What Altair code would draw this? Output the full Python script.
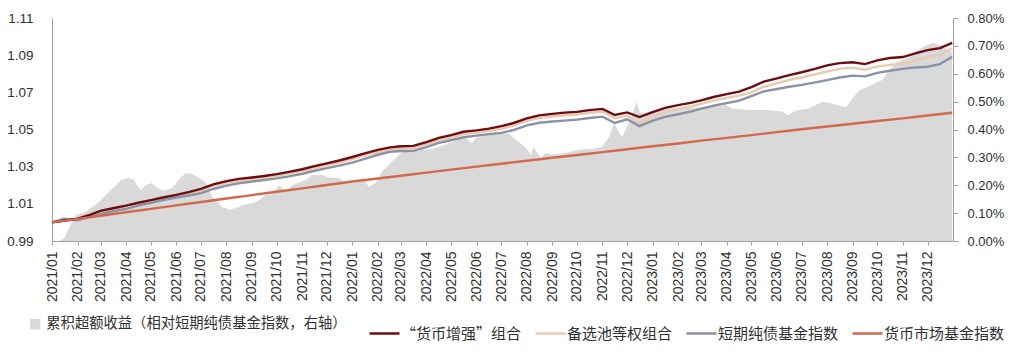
import altair as alt
import pandas as pd

# ---------------- data ----------------
line_dates = [f"{y}-{m:02d}-{d}" for y in (2021, 2022, 2023) for m in range(1, 13) for d in ("01", "16")] + ["2023-12-31"]

enhanced = [1.0000, 1.0010, 1.0020, 1.0040, 1.0062, 1.0076, 1.0090, 1.0106, 1.0120, 1.0134,
            1.0148, 1.0163, 1.0180, 1.0205, 1.0222, 1.0234, 1.0242, 1.0250, 1.0260, 1.0272,
            1.0286, 1.0303, 1.0318, 1.0333, 1.0352, 1.0372, 1.0390, 1.0404, 1.0410, 1.0412,
            1.0432, 1.0455, 1.0470, 1.0488, 1.0495, 1.0505, 1.0518, 1.0535, 1.0560, 1.0576,
            1.0584, 1.0591, 1.0595, 1.0604, 1.0611, 1.0578, 1.0592, 1.0567, 1.0593, 1.0616,
            1.0631, 1.0643, 1.0657, 1.0675, 1.0690, 1.0704, 1.0728, 1.0758, 1.0775, 1.0793,
            1.0808, 1.0825, 1.0845, 1.0857, 1.0862, 1.0852, 1.0872, 1.0885, 1.0890, 1.0910,
            1.0927, 1.0938, 1.0966]

pool = [1.0000, 1.0008, 1.0018, 1.0035, 1.0055, 1.0068, 1.0082, 1.0098, 1.0112, 1.0126,
        1.0140, 1.0155, 1.0171, 1.0196, 1.0213, 1.0225, 1.0233, 1.0241, 1.0251, 1.0263,
        1.0277, 1.0293, 1.0308, 1.0322, 1.0341, 1.0361, 1.0378, 1.0392, 1.0398, 1.0400,
        1.0420, 1.0442, 1.0457, 1.0475, 1.0482, 1.0492, 1.0504, 1.0521, 1.0546, 1.0562,
        1.0570, 1.0577, 1.0581, 1.0590, 1.0597, 1.0560, 1.0574, 1.0534, 1.0570, 1.0594,
        1.0611, 1.0624, 1.0638, 1.0655, 1.0670, 1.0682, 1.0700, 1.0730, 1.0749, 1.0767,
        1.0780, 1.0795, 1.0812, 1.0826, 1.0833, 1.0822, 1.0838, 1.0848, 1.0855, 1.0872,
        1.0890, 1.0902, 1.0937]

short_bond = [1.0000, 1.0020, 1.0012, 1.0030, 1.0045, 1.0060, 1.0073, 1.0090, 1.0105, 1.0120,
              1.0134, 1.0145, 1.0158, 1.0180, 1.0198, 1.0211, 1.0220, 1.0228, 1.0237, 1.0248,
              1.0262, 1.0278, 1.0292, 1.0306, 1.0322, 1.0342, 1.0364, 1.0380, 1.0384, 1.0385,
              1.0405, 1.0428, 1.0442, 1.0458, 1.0467, 1.0475, 1.0482, 1.0497, 1.0522, 1.0536,
              1.0543, 1.0548, 1.0553, 1.0562, 1.0569, 1.0535, 1.0555, 1.0518, 1.0548, 1.0568,
              1.0582, 1.0596, 1.0612, 1.0628, 1.0642, 1.0655, 1.0680, 1.0705, 1.0718, 1.0730,
              1.0740, 1.0752, 1.0766, 1.0780, 1.0790, 1.0786, 1.0805, 1.0816, 1.0826, 1.0834,
              1.0838, 1.0852, 1.0892]

mm_dates = [f"{y}-{m:02d}-01" for y in (2021, 2022, 2023) for m in range(1, 13)] + ["2023-12-31"]
money_mkt = [1.0000, 1.0019, 1.0036, 1.0055, 1.0073, 1.0092, 1.0110, 1.0129, 1.0147, 1.0165,
             1.0183, 1.0201, 1.0220, 1.0236, 1.0251, 1.0268, 1.0284, 1.0300, 1.0316, 1.0332,
             1.0348, 1.0363, 1.0378, 1.0394, 1.0410, 1.0425, 1.0440, 1.0455, 1.0470, 1.0486,
             1.0501, 1.0516, 1.0531, 1.0546, 1.0560, 1.0575, 1.0590]

area_dates = [
    "2021-01-01", "2021-01-10", "2021-01-16", "2021-01-22", "2021-01-30", "2021-02-11", "2021-02-27",
    "2021-03-11", "2021-03-20", "2021-03-26", "2021-04-05", "2021-04-11", "2021-04-14", "2021-04-19",
    "2021-04-25", "2021-05-02", "2021-05-09", "2021-05-17", "2021-05-27", "2021-06-07", "2021-06-13",
    "2021-06-20", "2021-06-29", "2021-07-07", "2021-07-15", "2021-07-20", "2021-07-27", "2021-08-01",
    "2021-08-04", "2021-08-16", "2021-08-20", "2021-09-01", "2021-09-06", "2021-09-18", "2021-09-25",
    "2021-10-04", "2021-10-12", "2021-10-20", "2021-11-06", "2021-11-13", "2021-11-26", "2021-11-30",
    "2021-12-16", "2021-12-24", "2022-01-01", "2022-01-09", "2022-01-13", "2022-01-21", "2022-01-30",
    "2022-02-06", "2022-02-18", "2022-02-27", "2022-03-03", "2022-03-20", "2022-04-08", "2022-04-28",
    "2022-05-19", "2022-05-26", "2022-05-31", "2022-06-16", "2022-06-28", "2022-07-10", "2022-07-22",
    "2022-07-31", "2022-08-06", "2022-08-09", "2022-08-13", "2022-08-18", "2022-08-24", "2022-08-31",
    "2022-09-17", "2022-10-03", "2022-10-19", "2022-10-31", "2022-11-09", "2022-11-15", "2022-11-19",
    "2022-11-25", "2022-12-03", "2022-12-09", "2022-12-12", "2022-12-17", "2022-12-23", "2022-12-31",
    "2023-01-08", "2023-01-24", "2023-02-10", "2023-02-26", "2023-03-18", "2023-03-31", "2023-04-07",
    "2023-04-28", "2023-05-22", "2023-06-07", "2023-06-15", "2023-06-24", "2023-07-10", "2023-07-26",
    "2023-08-12", "2023-08-24", "2023-09-01", "2023-09-09", "2023-09-21", "2023-10-07", "2023-10-15",
    "2023-10-24", "2023-11-09", "2023-11-25", "2023-12-07", "2023-12-15", "2023-12-27", "2023-12-31"]
excess_pct = [
    0.00, 0.00, 0.01, 0.05, 0.093, 0.105, 0.14,
    0.176, 0.20, 0.219, 0.226, 0.22, 0.20, 0.183,
    0.20, 0.208, 0.19, 0.18, 0.19, 0.23, 0.244,
    0.24, 0.226, 0.21, 0.158, 0.145, 0.118, 0.118,
    0.111, 0.122, 0.128, 0.135, 0.14, 0.165, 0.165,
    0.20, 0.177, 0.20, 0.22, 0.237, 0.237, 0.23,
    0.225, 0.212, 0.21, 0.212, 0.23, 0.194, 0.21,
    0.248, 0.284, 0.309, 0.32, 0.327, 0.33, 0.35,
    0.372, 0.35, 0.37, 0.38, 0.387, 0.385, 0.356,
    0.334, 0.309, 0.337, 0.32, 0.298, 0.316, 0.31,
    0.316, 0.327, 0.33, 0.337, 0.373, 0.423, 0.40,
    0.373, 0.423, 0.47, 0.499, 0.46, 0.459, 0.465,
    0.47, 0.477, 0.477, 0.48, 0.481, 0.488, 0.475,
    0.47, 0.47, 0.465, 0.452, 0.468, 0.475, 0.50,
    0.49, 0.48, 0.513, 0.54, 0.556, 0.578, 0.613,
    0.64, 0.66, 0.696, 0.71, 0.703, 0.685, 0.68]

series_names = ["“货币增强”组合", "备选池等权组合", "短期纯债基金指数", "货币市场基金指数"]
series_colors = ["#6E0C12", "#E6CBAE", "#8A92A8", "#D2694B"]
area_name = "累积超额收益（相对短期纯债基金指数，右轴）"
area_color = "#D9D9D9"
left_ticks = [0.99, 1.01, 1.03, 1.05, 1.07, 1.09, 1.11]
right_ticks = [0.0, 0.1, 0.2, 0.3, 0.4, 0.5, 0.6, 0.7, 0.8]

lines_df = pd.DataFrame({"date": line_dates, "enh": enhanced, "pool": pool, "sb": short_bond})
mm_df = pd.DataFrame({"date": mm_dates, "mm": money_mkt})
area_df = pd.DataFrame({"date": area_dates, "excess": excess_pct, "name": area_name})

NUM_FONT = "Liberation Sans"
CJK_FONT = "Noto Sans CJK SC"
AX_COLOR = "#A0A0A0"
TXT = "#303030"

x_enc = alt.X(
    "date:T",
    scale=alt.Scale(domain=[alt.DateTime(year=2021, month=1, date=1),
                            alt.DateTime(year=2023, month=12, date=31, hours=23)]),
    axis=alt.Axis(format="%Y/%m", labelAngle=-90, labelAlign="right", labelBaseline="middle",
                  tickCount={"interval": "month", "step": 1}, title=None, grid=False,
                  tickSize=4, labelPadding=6, labelFont=NUM_FONT, labelFontSize=14,
                  labelColor=TXT, domainColor=AX_COLOR, tickColor=AX_COLOR, labelOverlap=False,
                  labelFlush=False),
)

left_axis = alt.Axis(orient="left", values=left_ticks, format=".2f", ticks=False, grid=False,
                     title=None, labelPadding=19, labelFont=NUM_FONT, labelFontSize=13.5,
                     labelColor=TXT, domainColor=AX_COLOR)
left_scale = alt.Scale(domain=[0.99, 1.11], zero=False, nice=False)

stroke_scale = alt.Scale(domain=series_names, range=series_colors)
stroke_legend = alt.Legend(orient="none", legendX=316, legendY=299, direction="horizontal",
                           title=None, symbolType="stroke", symbolSize=900, symbolStrokeWidth=2.5,
                           labelFont=CJK_FONT, labelFontSize=15, labelColor=TXT, labelOffset=0,
                           columnPadding=8, padding=0, labelLimit=400, gridAlign="none")


def line_layer(df, field, name, width=2.4):
    return alt.Chart(df).transform_calculate(series=f"'{name}'").mark_line(strokeWidth=width).encode(
        x=x_enc,
        y=alt.Y(f"{field}:Q", scale=left_scale, axis=left_axis),
        stroke=alt.Stroke("series:N", scale=stroke_scale, legend=stroke_legend),
    )


lines = alt.layer(
    line_layer(lines_df, "pool", series_names[1]),
    line_layer(lines_df, "sb", series_names[2]),
    line_layer(lines_df, "enh", series_names[0]),
    line_layer(mm_df, "mm", series_names[3]),
)

area = alt.Chart(area_df).mark_area(opacity=1, interpolate="linear").encode(
    x=x_enc,
    y=alt.Y("excess:Q", scale=alt.Scale(domain=[0, 0.8], nice=False),
            axis=alt.Axis(orient="right", values=right_ticks,
                          labelExpr="format(datum.value, '.2f') + '%'", tickSize=5,
                          labelPadding=9, grid=False, title=None, labelFont=NUM_FONT,
                          labelFontSize=13, labelColor=TXT, domainColor=AX_COLOR,
                          tickColor=AX_COLOR)),
    fill=alt.Fill("name:N", scale=alt.Scale(domain=[area_name], range=[area_color]),
                  legend=alt.Legend(orient="none", legendX=-24, legendY=299, title=None,
                                    symbolType="square", symbolSize=110, symbolStrokeWidth=0,
                                    labelFont=CJK_FONT, labelFontSize=14.3, labelColor=TXT,
                                    labelOffset=4, padding=0, labelLimit=500)),
)

chart = (
    alt.layer(area, lines)
    .resolve_scale(y="independent")
    .properties(width=901, height=223, autosize="none",
                padding={"left": 52, "top": 18, "right": 62, "bottom": 111},
                background="white")
    .configure_view(stroke=None)
)

chart.save("out.html", embed_options={"renderer": "svg", "actions": False})
